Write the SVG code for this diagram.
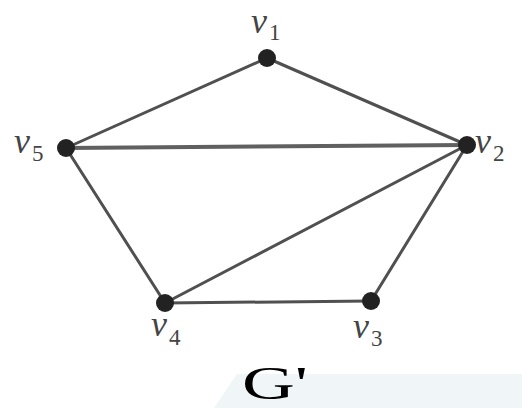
<svg xmlns="http://www.w3.org/2000/svg" width="522" height="408" viewBox="0 0 522 408">
<style>
.e{stroke:#505050;stroke-width:3;stroke-linecap:round;fill:none}
.n{fill:#222}
.v{font-family:"Liberation Serif",serif;font-style:italic;font-size:36px;fill:#444}
.s{font-family:"Liberation Serif",serif;font-size:23px;fill:#444}
</style>
<rect width="522" height="408" fill="#fff"/>
<polygon points="237,374 522,374 522,408 214,408" fill="#f0f5f8"/>
<g id="edges">
<line class="e" x1="267" y1="58" x2="66" y2="148"/>
<line class="e" x1="267" y1="58" x2="467" y2="145"/>
<line class="e" x1="66" y1="148" x2="467" y2="145" style="stroke-width:4;stroke:#606060"/>
<line class="e" x1="66" y1="148" x2="165" y2="303"/>
<line class="e" x1="467" y1="145" x2="165" y2="303"/>
<line class="e" x1="467" y1="145" x2="371" y2="301"/>
<line class="e" x1="165" y1="303" x2="371" y2="301"/>
</g>
<g id="v1"><circle class="n" cx="267" cy="58" r="9"/><text class="v" x="251" y="33">v</text><text class="s" x="269" y="40">1</text></g>
<g id="v2"><circle class="n" cx="467" cy="145" r="9"/><text class="v" x="475" y="153">v</text><text class="s" x="493" y="161">2</text></g>
<g id="v3"><circle class="n" cx="371" cy="301" r="9"/><text class="v" x="353" y="338">v</text><text class="s" x="371" y="346">3</text></g>
<g id="v4"><circle class="n" cx="165" cy="303" r="9"/><text class="v" x="151" y="336">v</text><text class="s" x="169" y="345">4</text></g>
<g id="v5"><circle class="n" cx="66" cy="148" r="9"/><text class="v" x="14" y="153">v</text><text class="s" x="32" y="161">5</text></g>
<g id="title"><text x="242" y="399" font-family="Liberation Serif,serif" font-size="46" textLength="66" lengthAdjust="spacingAndGlyphs" fill="#000">G'</text></g>
</svg>
